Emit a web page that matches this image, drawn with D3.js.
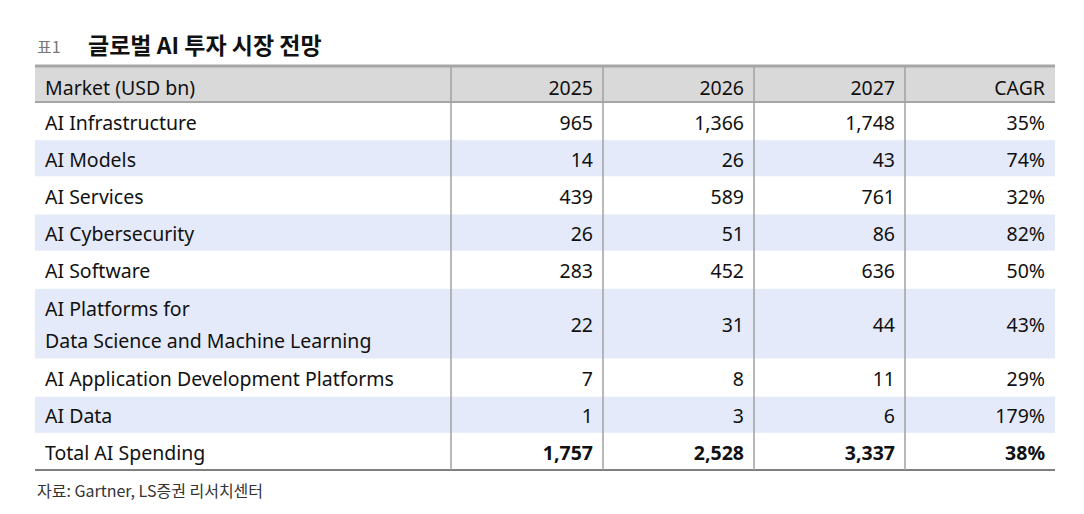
<!DOCTYPE html>
<html><head><meta charset="utf-8">
<script src="https://cdn.jsdelivr.net/npm/d3@7"></script>
<style>body{margin:0;background:#fff}</style>
</head><body><div id="chart"></div>
<script>
var headers = ["Market (USD bn)", "2025", "2026", "2027", "CAGR"];
var markets = ["AI Infrastructure", "AI Models", "AI Services", "AI Cybersecurity", "AI Software",
    "AI Platforms for\nData Science and Machine Learning", "AI Application Development Platforms", "AI Data", "Total AI Spending"];
var v2025 = ["965", "14", "439", "26", "283", "22", "7", "1", "1,757"];
var v2026 = ["1,366", "26", "589", "51", "452", "31", "8", "3", "2,528"];
var v2027 = ["1,748", "43", "761", "86", "636", "44", "11", "6", "3,337"];
var cagr = ["35%", "74%", "32%", "82%", "50%", "43%", "29%", "179%", "38%"];
var rowUnits = [1, 1, 1, 1, 1, 1.9, 1, 1, 1];

var width = 1084, height = 514;
var svg = d3.select("#chart").append("svg").attr("width", width).attr("height", height)
    .style("font-family", "'Noto Sans', 'Noto Sans CJK KR', sans-serif");

var colEdge = d3.scaleOrdinal().domain(d3.range(6)).range([35, 451, 603, 754, 905, 1055]);
var cum = [0];
rowUnits.forEach(u => cum.push(cum[cum.length - 1] + u));
var y = d3.scaleLinear().domain([0, cum[cum.length - 1]]).range([102, 470]);

// title
svg.append("text").attr("x", 37).attr("y", 53).attr("font-size", 16).attr("fill", "#777")
    .style("font-family", "'Noto Sans CJK KR'").text("표1");
svg.append("text").attr("x", 88).attr("y", 54).attr("font-size", 23).attr("font-weight", "bold").attr("fill", "#111")
    .style("font-family", "'Noto Sans CJK KR'").text("글로벌 AI 투자 시장 전망");

// header
svg.append("rect").attr("x", 35).attr("y", 66).attr("width", 1020).attr("height", 36).attr("fill", "#d9d9d9");
svg.append("line").attr("x1", 35).attr("x2", 1055).attr("y1", 66).attr("y2", 66).attr("stroke", "#a6a6a6").attr("stroke-width", 3);
svg.append("line").attr("x1", 35).attr("x2", 1055).attr("y1", 102).attr("y2", 102).attr("stroke", "#a6a6a6").attr("stroke-width", 2);

// row shading
svg.append("g").selectAll("rect").data(markets).join("rect")
    .attr("x", 35).attr("width", 1020)
    .attr("y", (d, i) => y(cum[i]) + 1).attr("height", (d, i) => y(cum[i + 1]) - y(cum[i]) - 1)
    .attr("fill", (d, i) => i % 2 === 1 ? "#e4eaf9" : "#fff");

svg.append("line").attr("x1", 35).attr("x2", 1055).attr("y1", 470).attr("y2", 470).attr("stroke", "#555").attr("stroke-width", 1.5);

// vertical separators
svg.append("g").selectAll("line").data([1, 2, 3, 4]).join("line")
    .attr("x1", d => colEdge(d)).attr("x2", d => colEdge(d))
    .attr("y1", 67).attr("y2", 470).attr("stroke", "#a0a0a0").attr("stroke-width", 1.5);

// header text
svg.append("g").selectAll("text").data(headers).join("text")
    .attr("x", (d, i) => i === 0 ? 45 : colEdge(i + 1) - 10)
    .attr("y", 95).attr("text-anchor", (d, i) => i === 0 ? "start" : "end")
    .attr("font-size", 19.5).attr("fill", "#111")
    .text(d => d);

// body
var cols = [v2025, v2026, v2027, cagr];
var rows = svg.append("g").selectAll("g").data(markets).join("g")
    .attr("transform", (d, i) => `translate(0,${(y(cum[i]) + y(cum[i + 1])) / 2})`)
    .attr("font-size", 19.5).attr("fill", "#111");
rows.append("text").attr("x", 45)
    .each(function (d) {
        var lines = d.split("\n");
        d3.select(this).selectAll("tspan").data(lines).join("tspan")
            .attr("x", 45).attr("y", (l, j) => (j - (lines.length - 1) / 2) * 32 + 9).text(l => l);
    });
cols.forEach((c, ci) => {
    rows.append("text").attr("x", colEdge(ci + 2) - 10).attr("y", 9).attr("text-anchor", "end")
        .attr("font-weight", (d, i) => i === 8 ? "bold" : "normal")
        .text((d, i) => c[i]);
});

svg.append("text").attr("x", 37).attr("y", 497).attr("font-size", 16).attr("fill", "#333")
    .style("font-family", "'Noto Sans CJK KR'").text("자료: Gartner, LS증권 리서치센터");
</script></body></html>
